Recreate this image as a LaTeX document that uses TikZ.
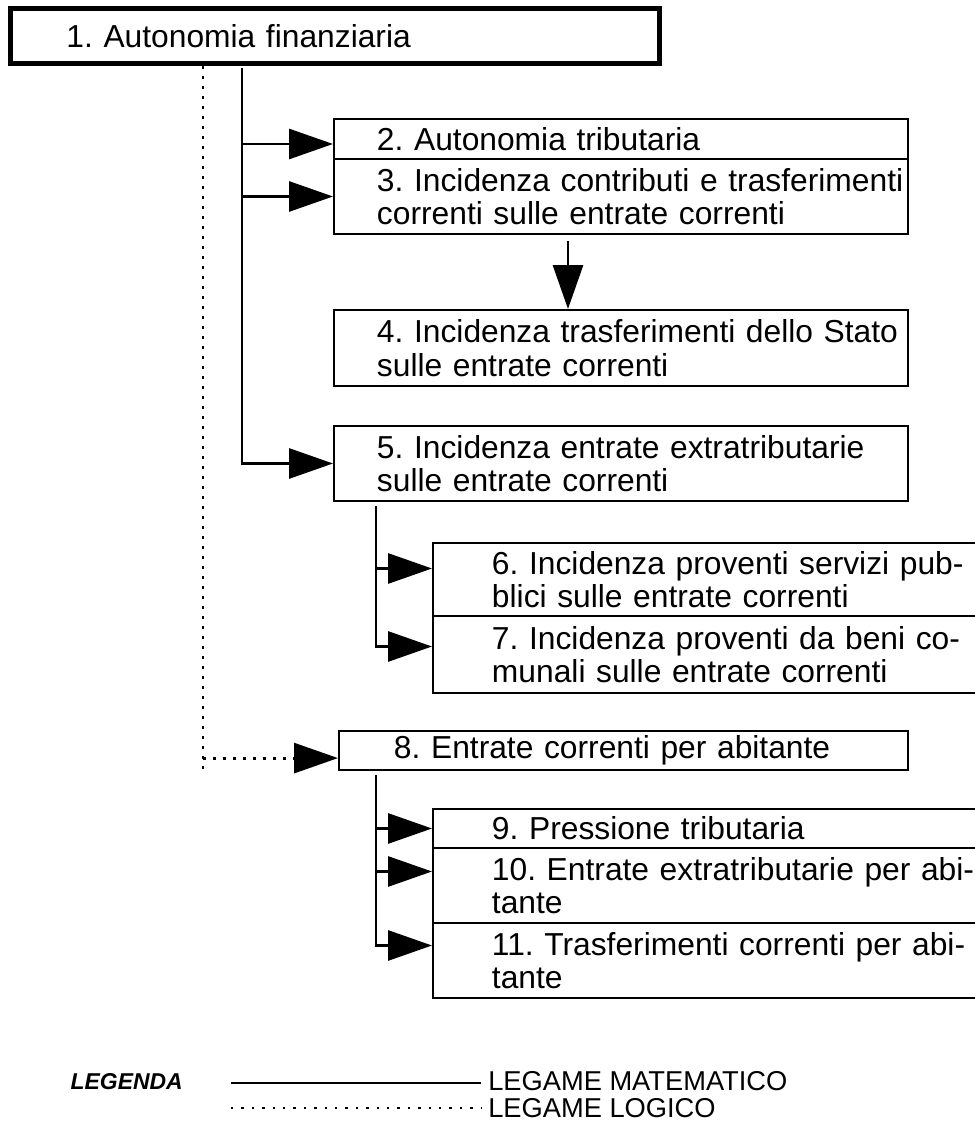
\documentclass[tikz,border=0pt]{standalone}
\usepackage{fontspec}
\setmainfont{Liberation Sans}
\usetikzlibrary{positioning, arrows.meta}

\begin{document}
\begin{tikzpicture}[>={Triangle[length=1.1cm, width=0.75cm]},
   box/.style={rectangle, draw, line width=1.4pt, align=left, anchor=north west,
               inner xsep=0pt, inner ysep=0pt, font=\fontsize{22.6}{23.8}\selectfont\frenchspacing},
   lpad/.style={execute at begin node={\leftskip=#1\rightskip=-1cm plus 1fil}},
   top/.style={box, line width=3.5pt, text width=16.225cm, lpad=1.4cm, minimum height=1.375cm},
   lvla/.style={box, text width=14.35cm, lpad=1.075cm},
   lvlb/.style={box, text width=13.7cm, lpad=1.475cm},
   link/.style={line width=2.1pt},
   logic/.style={line width=2.1pt, dash pattern=on 0.075cm off 0.175cm},
   leg/.style={font=\fontsize{19.4}{21}\selectfont, inner sep=0pt}]
  \useasboundingbox (0,0) rectangle (24.35,-28.45);

  \node[top]  (b1)  at (0.2,-0.15)     {1. Autonomia finanziaria};
  \node[lvla, minimum height=1cm]     (b2)  at (8.325,-2.95)   {2. Autonomia tributaria};
  \node[lvla, minimum height=1.875cm] (b3)  at (8.325,-3.95)   {3. Incidenza contributi e trasferimenti\\correnti sulle entrate correnti};
  \node[lvla, minimum height=1.9cm]   (b4)  at (8.325,-7.725)  {4. Incidenza trasferimenti dello Stato\\sulle entrate correnti};
  \node[lvla, minimum height=1.875cm] (b5)  at (8.325,-10.625) {5. Incidenza entrate extratributarie\\sulle entrate correnti};
  \node[lvlb, minimum height=1.825cm] (b6)  at (10.8,-13.55)   {6. Incidenza proventi servizi pub-\\blici sulle entrate correnti};
  \node[lvlb, minimum height=1.925cm] (b7)  at (10.8,-15.375)  {7. Incidenza proventi da beni co-\\munali sulle entrate correnti};
  \node[box, text width=14.225cm, lpad=1.375cm, minimum height=0.975cm] (b8) at (8.45,-18.25) {8. Entrate correnti per abitante};
  \node[lvlb, minimum height=0.975cm] (b9)  at (10.8,-20.2)    {9. Pressione tributaria};
  \node[lvlb, minimum height=1.875cm] (b10) at (10.8,-21.175)  {10. Entrate extratributarie per abi-\\tante};
  \node[lvlb, minimum height=1.875cm] (b11) at (10.8,-23.05)   {11. Trasferimenti correnti per abi-\\tante};

  % mathematical links
  \coordinate (t1)  at (6.05,-1.7);
  \coordinate (t2)  at (9.4,-12.65);
  \coordinate (t3)  at (9.4,-19.375);
  \coordinate (c34) at (14.2,-6.025);
  \coordinate (a2)  at ([yshift=-0.125cm]b2.west);
  \coordinate (a6)  at ([yshift=0.275cm]b6.west);
  \coordinate (a7)  at ([yshift=0.2cm]b7.west);
  \coordinate (a10) at ([yshift=0.35cm]b10.west);
  \coordinate (a11) at ([yshift=0.375cm]b11.west);
  \draw[link, ->] (t1) |- (b5.west);
  \draw[link, ->] (t1 |- a2) -- (a2);
  \draw[link, ->] (t1 |- b3.west) -- (b3.west);
  \draw[link, ->] (c34) -- (c34 |- b4.north);
  \draw[link, ->] (t2) |- (a7);
  \draw[link, ->] (t2 |- a6) -- (a6);
  \draw[link, ->] (t3) |- (a11);
  \draw[link, ->] (t3 |- b9.west) -- (b9.west);
  \draw[link, ->] (t3 |- a10) -- (a10);

  % logical link
  \coordinate (d1) at (5.075,-1.65);
  \coordinate (a8) at ([yshift=-0.19cm]b8.west);
  \draw[logic] (d1) -- (d1 |- b8.south);
  \draw[logic, ->] (d1 |- a8) -- (a8);

  % legend
  \node[leg, anchor=east, font=\fontsize{16.3}{18}\selectfont\bfseries\itshape] (lgd) at (4.575,-27.05) {LEGENDA};
  \node[leg, anchor=west] (mat) at (12.2,-27.03) {LEGAME MATEMATICO};
  \node[leg, anchor=west] (log) at (12.2,-27.7)  {LEGAME LOGICO};
  \coordinate (l1) at (5.775,-27.075);
  \coordinate (l2) at (5.775,-27.7);
  \draw[line width=1.4pt] (l1) -- ([xshift=-0.175cm]l1 -| mat.west);
  \draw[line width=1.4pt, dash pattern=on 0.06cm off 0.2cm] (l2) -- ([xshift=-0.175cm]l2 -| log.west);
\end{tikzpicture}
\end{document}
